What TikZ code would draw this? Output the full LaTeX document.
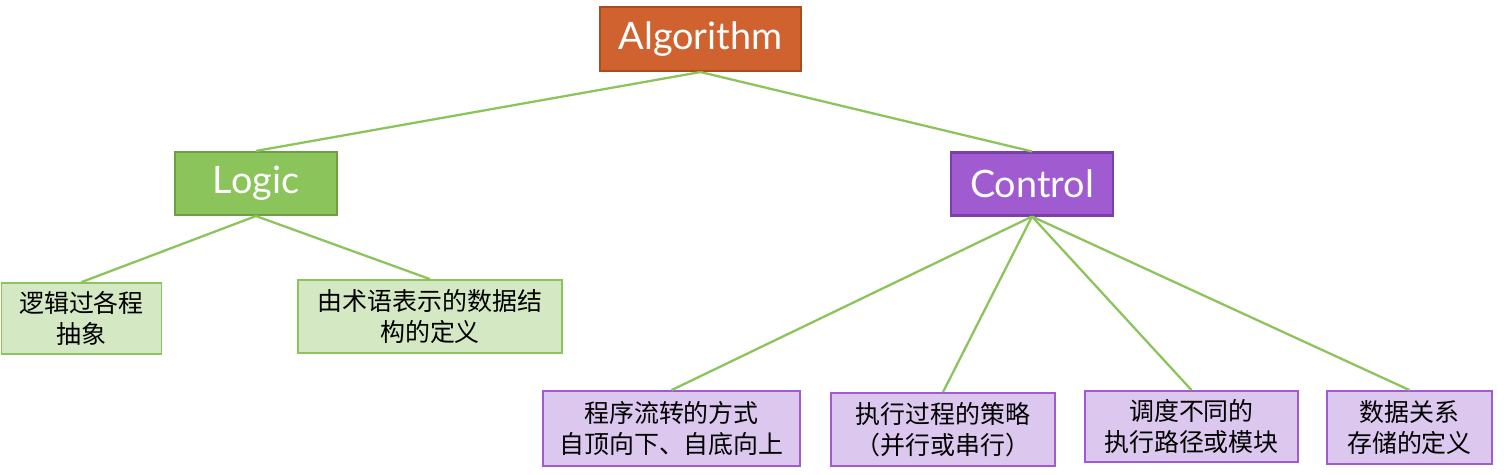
\documentclass[tikz,border=0pt]{standalone}
\usepackage{fontspec}
\setmainfont{Lato}
\newfontfamily\cjk{Noto Sans CJK SC}
\usetikzlibrary{positioning}
\definecolor{Rust}{HTML}{D0622F}
\definecolor{RustDark}{HTML}{A94C22}
\definecolor{Leaf}{HTML}{8BC45A}
\definecolor{LeafDark}{HTML}{6E9E45}
\definecolor{LeafPale}{HTML}{D3E8C3}
\definecolor{Plum}{HTML}{9F5BCF}
\definecolor{PlumDark}{HTML}{7C3EA8}
\definecolor{PlumPale}{HTML}{DCC7EE}

\begin{document}
\begin{tikzpicture}[x=0.02cm,y=-0.02cm,
  head/.style={draw,line width=1.2pt,text=white,inner sep=0pt,minimum width=3.24cm,minimum height=1.26cm,font=\fontsize{21.5}{25}\selectfont},
  leafbox/.style={draw=Leaf,fill=LeafPale,line width=1pt,inner sep=0pt,align=center,font=\cjk\fontsize{14.2}{18}\selectfont},
  plumbox/.style={draw=Plum,fill=PlumPale,line width=1pt,inner sep=0pt,align=center,font=\cjk\fontsize{14.2}{17.5}\selectfont},
  link/.style={draw=Leaf,line width=1.3pt}]
\useasboundingbox(0,0)rectangle(1512,475);
% top level
\node[head,fill=Rust,draw=RustDark,minimum width=4.02cm,minimum height=1.28cm](algo)at(700.5,39){Algorithm};
\node[head,fill=Leaf,draw=LeafDark](logic)at(256,183.5){Logic};
\node[head,fill=Plum,draw=PlumDark](ctrl)at(1032,184){Control};
% logic leaves
\node[leafbox,minimum width=3.2cm,minimum height=1.42cm](abs)at(81.5,318.5){逻辑过各程\\抽象};
\node[leafbox,minimum width=5.28cm,minimum height=1.46cm](term)at(430,316.5){由术语表示的数据结\\构的定义};
% control leaves
\node[plumbox,minimum width=5.14cm,minimum height=1.5cm](flow)at(671.5,428.5){程序流转的方式\\自顶向下、自底向上};
\node[plumbox,minimum width=4.48cm,minimum height=1.46cm](exec)at(943,429.5){执行过程的策略\\（并行或串行）};
\node[plumbox,minimum width=4.26cm,minimum height=1.42cm](sched)at(1191.5,426.5){调度不同的\\执行路径或模块};
\node[plumbox,minimum width=3.3cm,minimum height=1.46cm](store)at(1409.5,427.5){数据关系\\存储的定义};
% connectors
\foreach \a/\b in {algo/logic,algo/ctrl,logic/abs,logic/term,ctrl/flow,ctrl/exec,ctrl/sched,ctrl/store}
  \draw[link](\a.south)--(\b.north);
\end{tikzpicture}
\end{document}
